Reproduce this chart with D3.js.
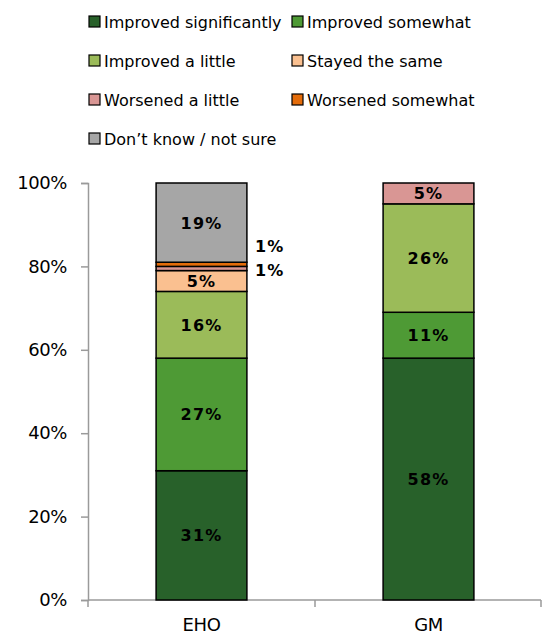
<!DOCTYPE html>
<html>
<head>
<meta charset="utf-8">
<script src="https://cdn.jsdelivr.net/npm/d3@7"></script>
<style>
  body { margin: 0; background: #fff; }
  text { font-family: "DejaVu Sans", Verdana, sans-serif; }
</style>
</head>
<body>
<div id="chart"></div>
<script>
// categories and series
var groups = ["EHO", "GM"];
var seriesNames = ["Improved significantly", "Improved somewhat", "Improved a little",
  "Stayed the same", "Worsened a little", "Worsened somewhat", "Don\u2019t know / not sure"];
var seriesColors = ["#28612a", "#4e9a35", "#9bbb59", "#fac090", "#d99694", "#e46c0a", "#a6a6a6"];
var ehoValues = [31, 27, 16, 5, 1, 1, 19];
var gmValues = [58, 11, 26, 0, 5, 0, 0];
var yTicks = [0, 20, 40, 60, 80, 100];

var width = 543, height = 637;
var margin = { top: 183, right: 1, bottom: 37, left: 88 };

var svg = d3.select("#chart").append("svg")
  .attr("width", width)
  .attr("height", height);

var x = d3.scaleBand()
  .domain(groups)
  .range([margin.left, width - margin.right])
  .paddingInner(0.6)
  .paddingOuter(0.3);

var y = d3.scaleLinear()
  .domain([0, 100])
  .range([height - margin.bottom, margin.top]);

// build table for stack
var table = groups.map(function(g, gi) {
  var row = { group: g };
  var vals = gi == 0 ? ehoValues : gmValues;
  seriesNames.forEach(function(s, i) { row[s] = vals[i]; });
  return row;
});
var stacked = d3.stack().keys(seriesNames)(table);

// y axis
var yAxis = svg.append("g")
  .attr("transform", "translate(" + margin.left + ",0)")
  .call(d3.axisLeft(y).tickValues(yTicks).tickSize(7).tickPadding(14)
    .tickFormat(function(d) { return d + "%"; }));
yAxis.select(".domain").attr("stroke", "#9a9a9a").attr("stroke-width", 1.5);
yAxis.selectAll(".tick line").attr("stroke", "#9a9a9a").attr("stroke-width", 1.5);
yAxis.selectAll(".tick text")
  .style("font-size", "18px").attr("fill", "#000")
  .style("letter-spacing", "-0.4px")
  .style("font-family", "DejaVu Sans, Verdana, sans-serif");

// x axis line with ticks at band boundaries
var step = x.step();
var edges = [margin.left, x("GM") - step * 0.3, width - margin.right - 1];
svg.append("line")
  .attr("x1", margin.left).attr("x2", edges[2])
  .attr("y1", y(0)).attr("y2", y(0))
  .attr("stroke", "#9a9a9a").attr("stroke-width", 1.5);
svg.selectAll(".xtick").data(edges).enter().append("line")
  .attr("x1", function(d) { return d; }).attr("x2", function(d) { return d; })
  .attr("y1", y(0)).attr("y2", y(0) + 7)
  .attr("stroke", "#9a9a9a").attr("stroke-width", 1.5);
svg.selectAll(".xlabel").data(groups).enter().append("text")
  .attr("x", function(d) { return x(d) + x.bandwidth() / 2; })
  .attr("y", y(0) + 31)
  .attr("text-anchor", "middle")
  .style("font-size", "18px")
  .style("letter-spacing", "-0.4px")
  .text(function(d) { return d; });

// bars
var layer = svg.selectAll(".layer").data(stacked).enter().append("g")
  .attr("fill", function(d, i) { return seriesColors[i]; });
layer.selectAll("rect")
  .data(function(d) { return d.filter(function(p) { return p[1] - p[0] > 0; }); })
  .enter().append("rect")
  .attr("x", function(d) { return x(d.data.group); })
  .attr("y", function(d) { return y(d[1]); })
  .attr("width", x.bandwidth())
  .attr("height", function(d) { return y(d[0]) - y(d[1]); })
  .attr("stroke", "#000")
  .attr("stroke-width", 1.5);

// labels
layer.each(function(s, si) {
  d3.select(this).selectAll("text")
    .data(s.filter(function(p) { return p[1] - p[0] > 0; }))
    .enter().append("text")
    .attr("x", function(d) {
      var v = d[1] - d[0];
      return v < 3 ? x(d.data.group) + x.bandwidth() + 8 : x(d.data.group) + x.bandwidth() / 2;
    })
    .attr("y", function(d) {
      var v = d[1] - d[0];
      var cy = y((d[0] + d[1]) / 2);
      if (v < 3) return (si == 5 ? cy - 18 : cy + 2) + 6;
      return cy + 6;
    })
    .attr("text-anchor", function(d) { return d[1] - d[0] < 3 ? "start" : "middle"; })
    .attr("fill", "#000")
    .style("font-size", "16px")
    .style("font-weight", "bold")
    .style("letter-spacing", "1.2px")
    .text(function(d) { return (d[1] - d[0]) + "%"; });
});

// legend
var legend = svg.append("g");
var legItems = legend.selectAll("g").data(seriesNames).enter().append("g")
  .attr("transform", function(d, i) {
    return "translate(" + (i % 2 == 0 ? 89 : 292) + "," + (22 + Math.floor(i / 2) * 39) + ")";
  });
legItems.append("rect")
  .attr("x", 0).attr("y", -6).attr("width", 11).attr("height", 11)
  .attr("fill", function(d, i) { return seriesColors[i]; })
  .attr("stroke", "#000").attr("stroke-width", 1.2);
legItems.append("text")
  .attr("x", 15).attr("y", 6)
  .style("font-size", "16px")
  .attr("fill", "#000")
  .text(function(d) { return d; });
</script>
</body>
</html>
